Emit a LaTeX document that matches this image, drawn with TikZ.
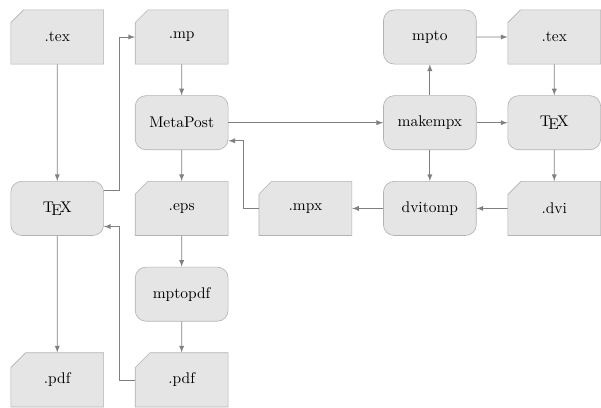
\documentclass[tikz,border=0pt]{standalone}
\usepackage{tikz}
\usetikzlibrary{arrows,shapes,shapes.misc}
\usetikzlibrary{positioning,calc}
\tikzstyle{arrow}=[draw,-latex,gray,line width=0.5pt]
\tikzstyle{file} = [chamfered rectangle, chamfered rectangle corners=north west, chamfered rectangle xsep=9pt, chamfered rectangle ysep=5pt, draw=gray!60, fill=gray!20, minimum width=60pt, minimum height=35pt, inner sep=0pt]
\tikzstyle{prog} = [rectangle, rounded corners=7pt, draw=gray!60, fill=gray!20, minimum width=60pt, minimum height=35pt, inner sep=0pt]

\begin{document}
\begin{tikzpicture}[node distance=20pt]
\node [file] (tex1) {.tex};
\node [file, right=of tex1] (mp) {.mp};
\node [prog, below=of mp] (metapost) {MetaPost};
\node [file, below=of metapost] (eps) {.eps};
\node [prog, left=of eps] (tex2) {\TeX};
\node [prog, below=of eps] (mptopdf) {mptopdf};
\node [file, below=of mptopdf] (pdf2) {.pdf};
\node [file, left=of pdf2] (pdf1) {.pdf};

\node [prog, right=100pt of metapost] (makempx) {makempx};
\node [prog, above=of makempx] (mpto) {mpto};
\node [file, right=of mpto] (tex3) {.tex};
\node [prog, right=of makempx] (tex4) {\TeX};
\node [file, below=of tex4] (dvi) {.dvi};
\node [prog, below=of makempx] (dvitomp) {dvitomp};
\node [file, left=of dvitomp] (mpx) {.mpx};

\useasboundingbox ($(tex1.center)+(-37pt,23.9pt)$) rectangle ($(tex1.center)+(346.5pt,-237.7pt)$);

\draw[arrow] (tex1) -- (tex2);
\draw[arrow] ([yshift=11.7pt]tex2.east) -- ++(10pt,0) |- (mp.west);
\draw[arrow] (mp) -- (metapost);
\draw[arrow] (metapost) -- (eps);
\draw[arrow] (eps) -- (mptopdf);
\draw[arrow] (mptopdf) -- (pdf2);
\draw[arrow] (pdf2.west) -- ++(-10pt,0) |- ([yshift=-11.7pt]tex2.east);
\draw[arrow] (tex2) -- (pdf1);

\draw[arrow] (metapost) -- (makempx);
\draw[arrow] (makempx) -- (mpto);
\draw[arrow] (mpto) -- (tex3);
\draw[arrow] (tex3) -- (tex4);
\draw[arrow] (makempx) -- (tex4);
\draw[arrow] (tex4) -- (dvi);
\draw[arrow] (dvi) -- (dvitomp);
\draw[arrow] (makempx) -- (dvitomp);
\draw[arrow] (dvitomp) -- (mpx);
\draw[arrow] (mpx.west) -- ++(-10pt,0) |- ([yshift=-11.7pt]metapost.east);
\end{tikzpicture}
\end{document}
